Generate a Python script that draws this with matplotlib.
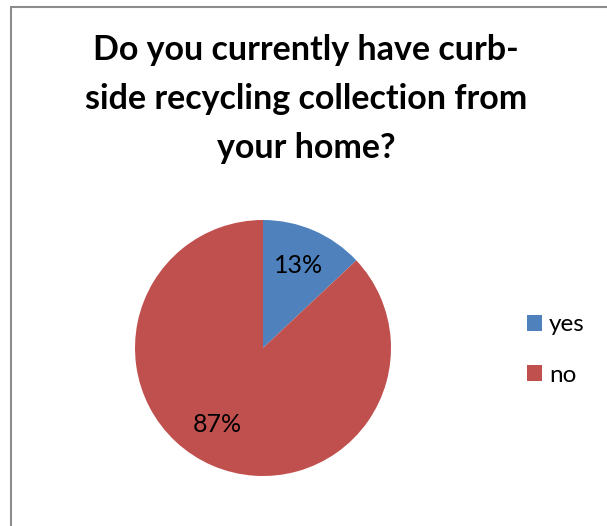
import matplotlib
matplotlib.use("Agg")
import matplotlib.pyplot as plt
from matplotlib.patches import Rectangle

labels = ["yes", "no"]
shares = [13, 87]
colors = ["#4F81BD", "#C0504D"]
title = "Do you currently have curb-\nside recycling collection from\nyour home?"

plt.rcParams['font.family'] = ['Lato', 'DejaVu Sans']

W, H = 607, 526
fig = plt.figure(figsize=(W / 100, H / 100), dpi=100)
fig.patch.set_facecolor('white')

# chart frame (only top and left edges fall inside the image)
fig.patches.append(Rectangle((11 / W, -0.1), 1.2, 1 - 7 / H + 0.1,
                             transform=fig.transFigure, fill=False,
                             edgecolor='#8c8c8c', linewidth=1.5))

# pie area
cx, cy, r = 263, 348, 128
ax = fig.add_axes([(cx - r) / W, (H - cy - r) / H, 2 * r / W, 2 * r / H])
wedges, texts, autotexts = ax.pie(shares, colors=colors, startangle=90,
                                  counterclock=False, radius=1,
                                  autopct='%d%%', pctdistance=0.7,
                                  wedgeprops=dict(linewidth=0))
ax.set_xlim(-1, 1)
ax.set_ylim(-1, 1)
ax.set_aspect('equal')
for t in autotexts:
    t.set_fontsize(18)
    t.set_color('black')
autotexts[1].set_position((-0.36, -0.6))

fig.text(306 / W, 1 - 99 / H, title, ha='center', va='center',
         fontsize=24.5, fontweight='bold', linespacing=1.66)

fig.legend(wedges, labels, loc='center left',
           bbox_to_anchor=(527 / W, 1 - 350 / H), frameon=False,
           borderpad=0, borderaxespad=0,
           fontsize=17.5, handlelength=0.6, handleheight=0.6,
           handletextpad=0.3, labelspacing=1.2)

plt.savefig("out.png", dpi=100, facecolor='white')
